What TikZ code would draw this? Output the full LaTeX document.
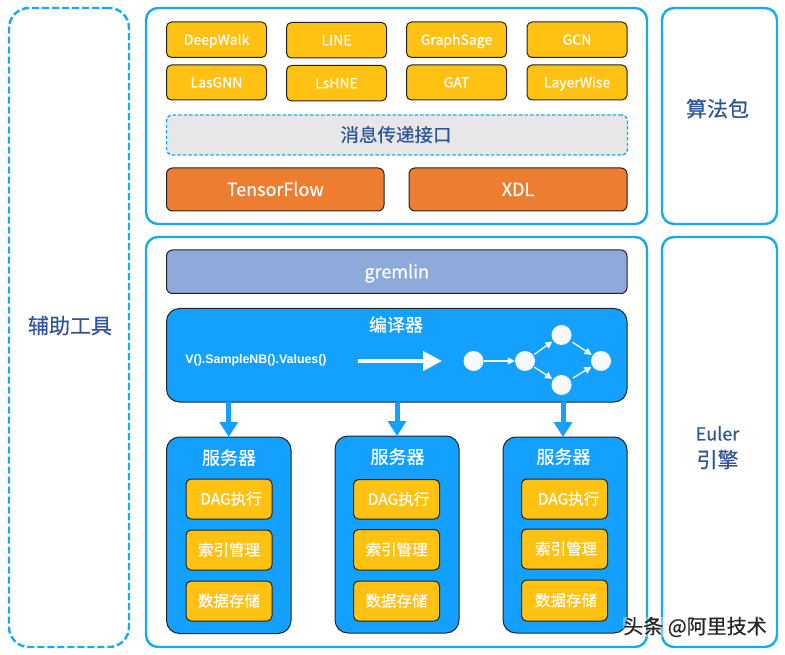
\documentclass[tikz,border=0pt]{standalone}
\usepackage{fontspec}
\setmainfont{Noto Sans CJK SC}[FakeBold=0.5]
\newfontfamily\arialfont{Liberation Sans}
\usetikzlibrary{arrows.meta}
\definecolor{panelline}{HTML}{18ABEC}
\definecolor{amber}{HTML}{FFC112}
\definecolor{orangebox}{HTML}{ED7D31}
\definecolor{periwinkle}{HTML}{8EAADB}
\definecolor{bluefill}{HTML}{14A0FF}
\definecolor{greybox}{HTML}{E8E7E8}
\definecolor{navytext}{HTML}{2F5597}
\definecolor{dotwhite}{HTML}{F5FAFF}
\definecolor{edgedark}{HTML}{222222}
\newcommand{\fs}[1]{\fontsize{#1}{#1}\selectfont}
\newcommand{\bx}[7]{\node[#2,minimum width={(#5-#3)*1pt},minimum height={(#6-#4)*1pt}] (#1) at ({(#3+#5)/2},{(#4+#6)/2}) {#7};}
\tikzset{
 base/.style={rectangle,inner sep=0pt,outer sep=0pt,align=center},
 struck/.style={text height=#1*.86pt,text depth=#1*.14pt},
 panel/.style={base,draw=panelline,line width=2.4pt,rounded corners=12pt,text=navytext},
 toolpanel/.style={panel,dash pattern=on 7pt off 3pt,rounded corners=20pt},
 sidelabel/.style={base,struck=21,text=navytext,font=\fs{21}},
 eulerlabel/.style={base,struck=18,text=navytext,font=\fs{18}},
 algbox/.style={base,struck=14,draw=edgedark,line width=1pt,fill=amber,rounded corners=5pt,text=white,font=\fs{14}},
 innerbox/.style={algbox,struck=15.5,font=\fs{15.5}},
 dashedbar/.style={base,struck=18.5,draw=panelline,line width=1.4pt,dash pattern=on 3.5pt off 2pt,fill=greybox,rounded corners=6pt,text=navytext,font=\fs{18.5}},
 framebox/.style={base,struck=18,draw=edgedark,line width=1pt,fill=orangebox,rounded corners=6pt,text=white,font=\fs{18}},
 gremlinbox/.style={framebox,fill=periwinkle},
 bluebox/.style={base,draw=edgedark,line width=1pt,fill=bluefill,rounded corners=13pt},
 title/.style={base,struck=18,text=white,font=\fs{18}},
 dot/.style={circle,fill=dotwhite,inner sep=0pt,minimum size=20pt},
 smallarrow/.style={draw=dotwhite,line width=1.3pt,-{Triangle[length=7pt,width=7pt]},shorten >=0pt},
 bigarrow/.style={draw=bluefill,line width=5pt,-{Triangle[length=15pt,width=18pt]}},
 flowarrow/.style={draw=white,line width=4pt,-{Triangle[length=19pt,width=19pt]}}
}
\begin{document}
\begin{tikzpicture}[x=1pt,y=-1pt]
\useasboundingbox (0,0) rectangle (785,655);
\bx{tools}{toolpanel}{9}{8}{129}{647}{}
\node[sidelabel] (toolslabel) at (70,326) {辅助工具};
\bx{algpanel}{panel}{146}{8}{647}{224}{}
\bx{algside}{panel}{662}{8}{777}{224}{}
\node[sidelabel] (alglabel) at (717.5,109) {算法包};
\bx{engpanel}{panel}{146}{237}{647}{647}{}
\bx{engside}{panel}{662}{237}{777}{647}{}
\node[eulerlabel] (eulerlabel) at (717.5,434) {Euler};
\node[sidelabel] (enginelabel) at (717.5,460) {引擎};
\bx{a1}{algbox}{166.5}{22}{266.5}{57.5}{DeepWalk}
\bx{a2}{algbox}{286.5}{22.5}{386.5}{58}{LINE}
\bx{a3}{algbox}{406.5}{22}{506.5}{57.5}{GraphSage}
\bx{a4}{algbox}{527}{22}{627}{57.5}{GCN}
\bx{b1}{algbox}{166.5}{65}{266.5}{100}{LasGNN}
\bx{b2}{algbox}{286.5}{65.5}{386.5}{101}{LsHNE}
\bx{b3}{algbox}{406.5}{65}{506.5}{100}{GAT}
\bx{b4}{algbox}{527}{65}{627}{100}{LayerWise}
\bx{msg}{dashedbar}{166.5}{115}{627.5}{155}{消息传递接口\hspace*{2pt}}
\bx{tf}{framebox}{166.5}{168}{384}{211}{TensorFlow}
\bx{xdl}{framebox}{409}{168}{627}{211}{XDL}
\bx{grem}{gremlinbox}{166.5}{250}{627}{293.5}{gremlin}
\bx{comp}{bluebox}{166.5}{308.5}{627}{402}{}
\node[title] (comptitle) at (396,325) {编译器};
\node[base,text=white,font=\arialfont\bfseries\fs{12.4}] (query) at (256,360.5) {V().SampleNB().Values()};
\coordinate (flowstart) at (358,361);
\coordinate (flowend) at (442,361);
\draw[flowarrow] (flowstart) -- (flowend);
\node[dot] (d1) at (473.5,361) {};
\node[dot] (d2) at (525,361) {};
\node[dot] (d3) at (561.5,335) {};
\node[dot] (d4) at (561.5,385) {};
\node[dot] (d5) at (601,361) {};
\draw[smallarrow] (d1) -- (d2);
\draw[smallarrow,shorten <=1pt,shorten >=1pt] (d2) -- (d3);
\draw[smallarrow,shorten <=1pt,shorten >=1pt] (d2) -- (d4);
\draw[smallarrow,shorten <=3pt,shorten >=1pt] (d3) -- (d5);
\draw[smallarrow,shorten <=3pt,shorten >=1pt] (d4) -- (d5);
\bx{s1}{bluebox}{166.5}{437}{291}{633.5}{}
\bx{s2}{bluebox}{335}{436}{459}{633}{}
\bx{s3}{bluebox}{503}{437}{627}{633}{}
\node[title] (t1) at (229,458) {服务器};
\node[title] (t2) at (397.5,457) {服务器};
\node[title] (t3) at (563.5,457) {服务器};
\bx{s1a}{innerbox}{186}{479}{272}{519}{\hspace*{4pt}DAG执行}
\bx{s1b}{innerbox}{186}{530}{272}{570}{索引管理}
\bx{s1c}{innerbox}{186}{581}{272}{621}{数据存储}
\bx{s2a}{innerbox}{353.5}{479.5}{439.5}{519}{\hspace*{4pt}DAG执行}
\bx{s2b}{innerbox}{353.5}{529.5}{439.5}{570}{索引管理}
\bx{s2c}{innerbox}{353.5}{581}{439.5}{621}{数据存储}
\bx{s3a}{innerbox}{521.5}{479}{607.5}{519}{\hspace*{8pt}DAG执行}
\bx{s3b}{innerbox}{521.5}{529}{607.5}{569}{\hspace*{3pt}索引管理}
\bx{s3c}{innerbox}{521.5}{580}{607.5}{621}{\hspace*{3pt}数据存储}
\draw[bigarrow] (s1.north |- comp.south) -- (s1.north);
\draw[bigarrow] (s2.north |- comp.south) -- (s2.north);
\draw[bigarrow] ([xshift=-2pt]s3.north |- comp.south) -- ([xshift=-2pt]s3.north);
\node[base,text=black!85,font=\fs{20},fill=white,fill opacity=.35,text opacity=1] (mark) at (695,627) {头条 @阿里技术};
\end{tikzpicture}
\end{document}
